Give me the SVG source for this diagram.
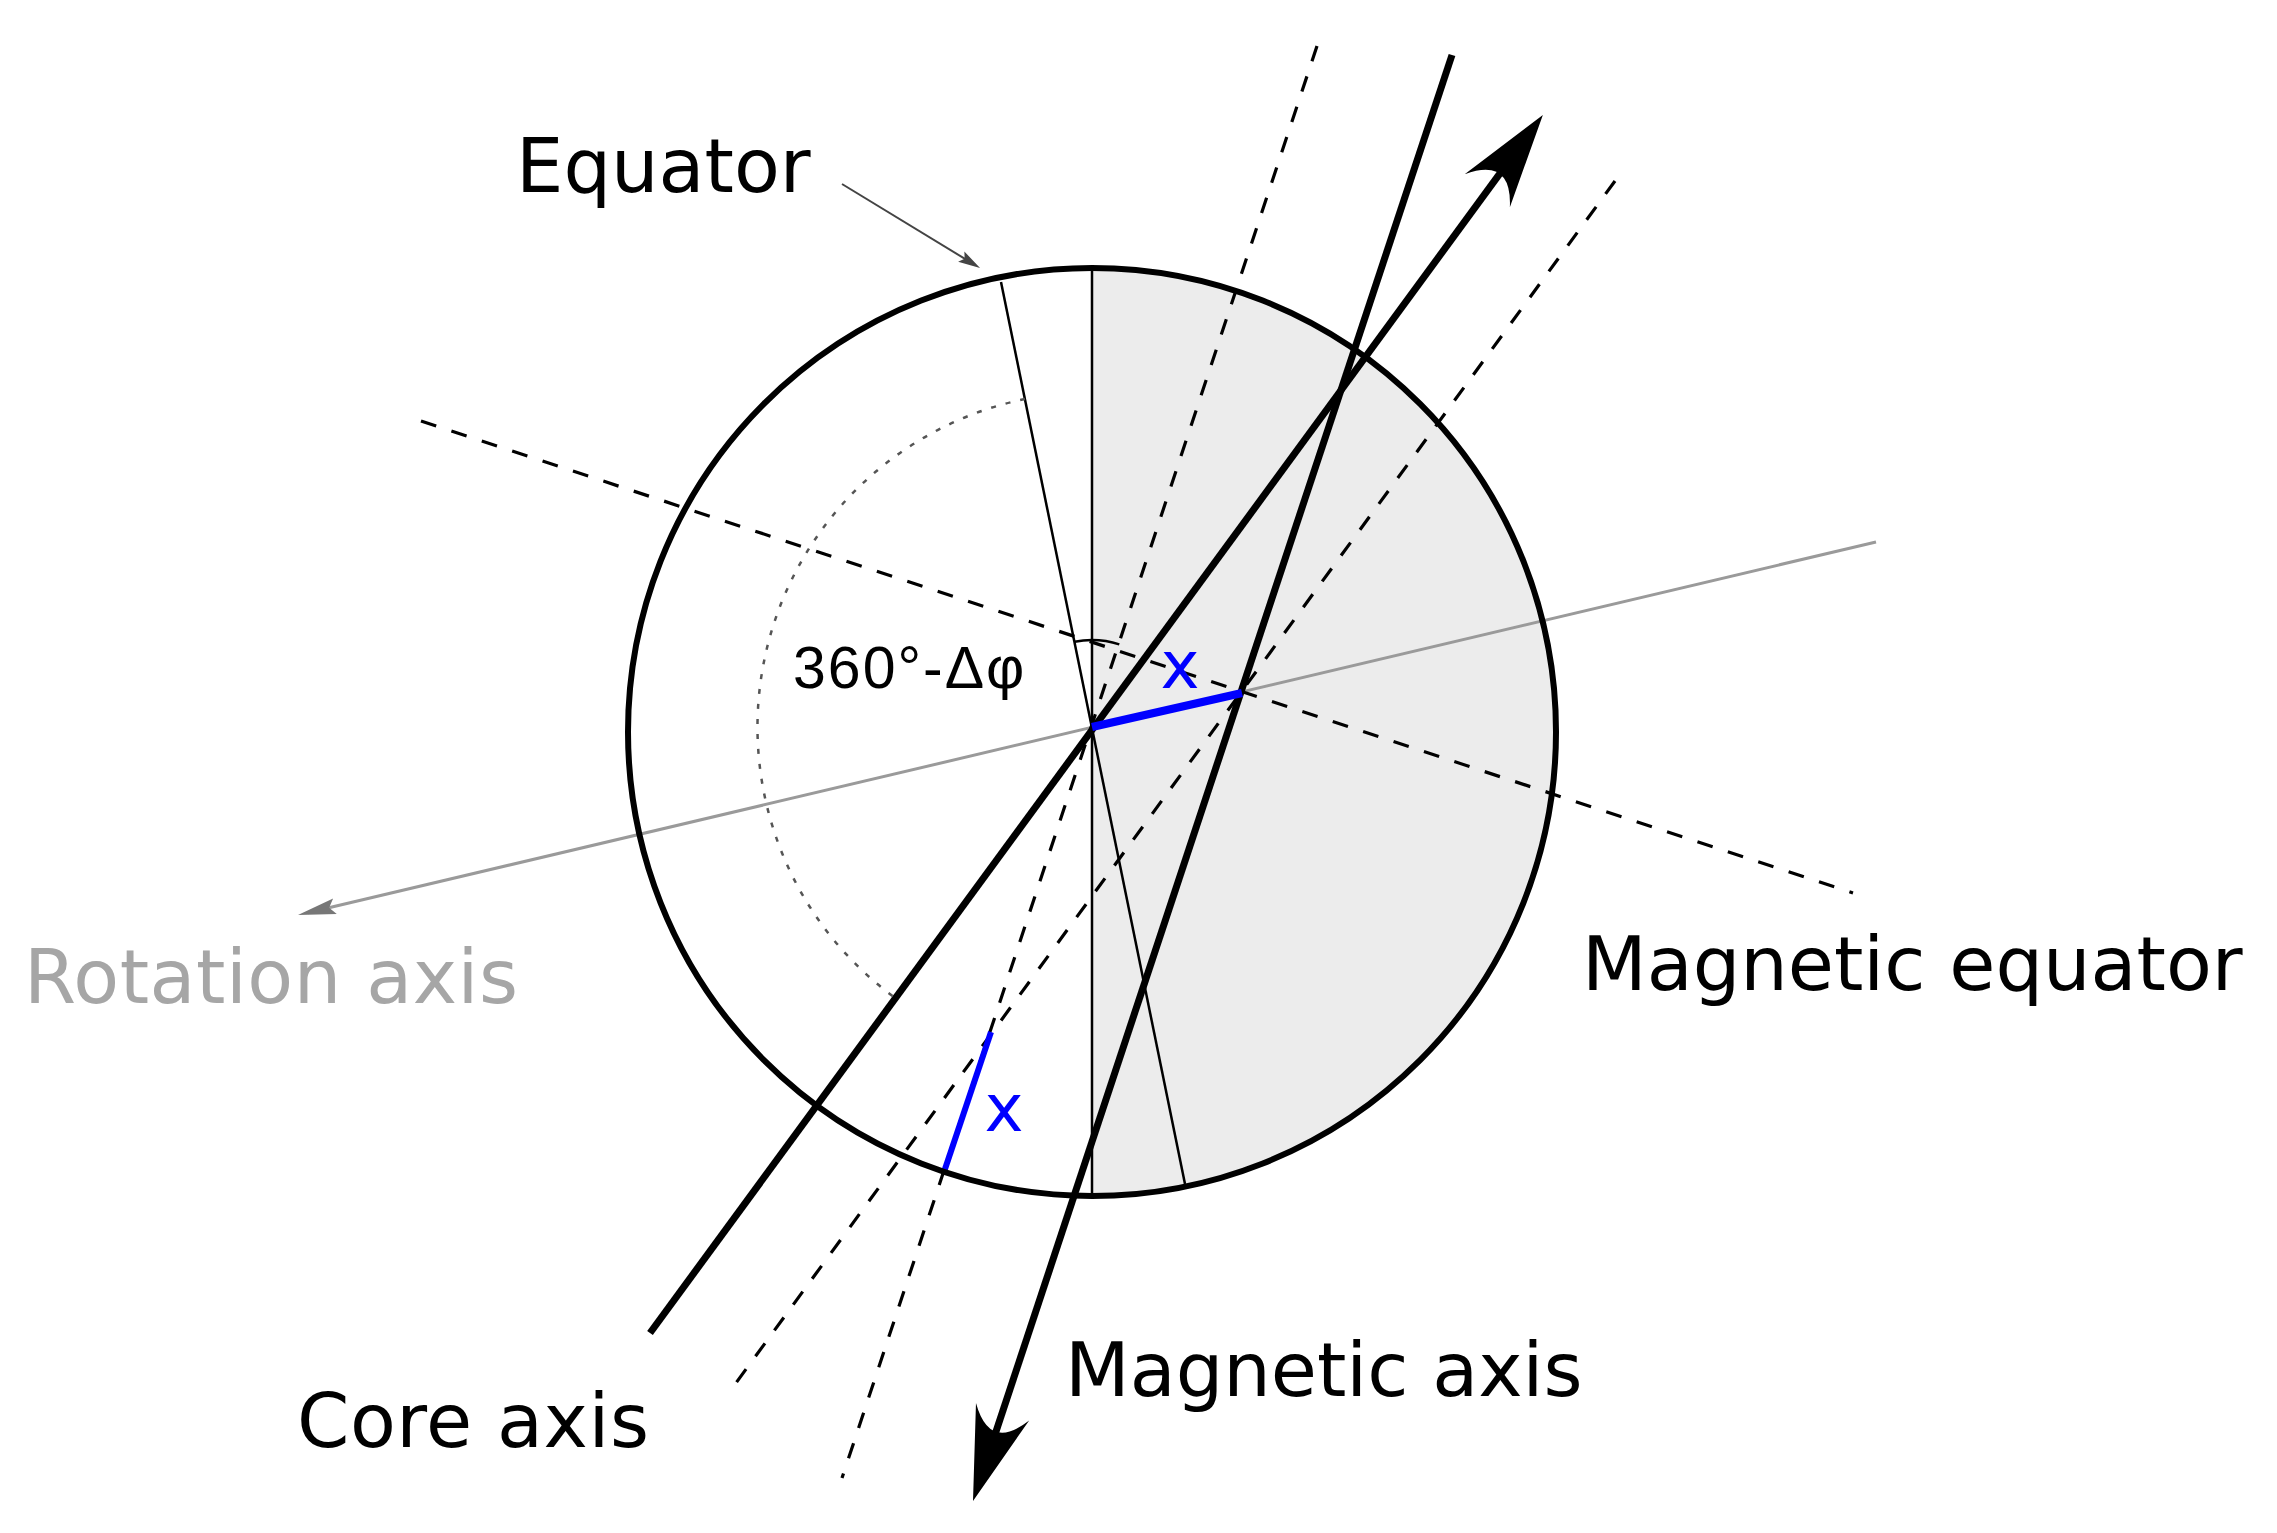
<svg xmlns="http://www.w3.org/2000/svg" width="2277" height="1533" viewBox="0 0 2277 1533">
  <style>
    .lbl { font-family: "DejaVu Sans", "Liberation Sans", sans-serif; font-size: 75px; fill: #000; }
    .gray { fill: #a6a6a6; }
    .blue { font-family: "DejaVu Sans", "Liberation Sans", sans-serif; font-size: 66px; fill: #0000ff; text-anchor: middle; }
    .angle { font-family: "Liberation Sans", "DejaVu Sans", sans-serif; font-size: 59px; fill: #000; letter-spacing: 2px; }
    .thick { stroke: #000; stroke-width: 7; fill: none; }
    .dash { stroke: #000; stroke-width: 3.2; fill: none; stroke-dasharray: 16 16; }
    .thin { stroke: #000; stroke-width: 2.5; fill: none; }
    .bl { stroke: #0000ff; fill: none; }
  </style>
  <defs>
    <marker id="bigArrow" markerUnits="userSpaceOnUse" orient="auto" markerWidth="200" markerHeight="200" refX="0" refY="0" viewBox="-100 -100 200 200" overflow="visible">
      <path d="M62,0 L-32,-28 Q10,0 -32,28 Z" fill="#000"/>
    </marker>
    <marker id="grayArrow" markerUnits="userSpaceOnUse" orient="auto" markerWidth="100" markerHeight="100" refX="0" refY="0" viewBox="-50 -50 100 100" overflow="visible">
      <path d="M10,0 L-28,-8 L-22,0 L-28,8 Z" fill="#777"/>
    </marker>
    <marker id="smallArrow" markerUnits="userSpaceOnUse" orient="auto" markerWidth="60" markerHeight="60" refX="0" refY="0" viewBox="-30 -30 60 60" overflow="visible">
      <path d="M6,0 L-16,-6 L-12,0 L-16,6 Z" fill="#444"/>
    </marker>
  </defs>
  <rect width="2277" height="1533" fill="#fff"/>

  <g id="sphere">
    <path d="M1092,268 A464,464 0 0,1 1092,1196 Z" fill="#ececec"/>
  </g>

  <g id="connectors">
    <!-- rotation axis -->
    <line x1="1876" y1="542" x2="307.7" y2="912.7" stroke="#9a9a9a" stroke-width="3" marker-end="url(#grayArrow)"/>
    <!-- vertical line and equator line -->
    <line x1="1092" y1="268" x2="1092" y2="1196" class="thin" stroke-width="3"/>
    <line x1="1001" y1="282" x2="1185" y2="1184" class="thin"/>
    <!-- dotted angle arc -->
    <path d="M1025,399 A335,335 0 0,0 894,997" fill="none" stroke="#555" stroke-width="2.5" stroke-dasharray="5 10"/>
    <!-- small angle marks -->
    <path d="M1074.6,641.8 A87,87 0 0,1 1092,640" class="thin"/>
    <path d="M1092,640 A87,87 0 0,1 1119.3,644.4" class="thin"/>
    <!-- dashed lines -->
    <line x1="421" y1="421" x2="1853" y2="893" class="dash"/>
    <line x1="1317" y1="46" x2="842" y2="1478" class="dash"/>
    <line x1="1615" y1="181" x2="733" y2="1387" class="dash"/>
    <!-- thick axes -->
    <line x1="650" y1="1333" x2="1506.2" y2="164.9" class="thick" marker-end="url(#bigArrow)"/>
    <line x1="1452" y1="55" x2="992.5" y2="1442.1" class="thick" marker-end="url(#bigArrow)"/>
    <!-- blue distances -->
    <line x1="1092" y1="727" x2="1242" y2="693" class="bl" stroke-width="8"/>
    <line x1="944" y1="1172" x2="991" y2="1032" class="bl" stroke-width="6"/>
    <!-- equator pointer -->
    <line x1="842" y1="184" x2="974.9" y2="264.9" stroke="#444" stroke-width="2" marker-end="url(#smallArrow)"/>
  </g>

  <g id="outline">
    <circle cx="1092" cy="732" r="464" fill="none" stroke="#000" stroke-width="6"/>
  </g>

  <g id="labels">
    <text class="lbl" x="516" y="192">Equator</text>
    <text class="lbl gray" x="24" y="1003" textLength="494">Rotation axis</text>
    <text class="lbl" x="1582" y="990">Magnetic equator</text>
    <text class="lbl" x="1065" y="1396">Magnetic axis</text>
    <text class="lbl" x="297" y="1447" textLength="352">Core axis</text>
    <text class="angle" x="793" y="688">360°-Δφ</text>
    <text class="blue" x="1180" y="688">x</text>
    <text class="blue" x="1004" y="1131">x</text>
  </g>
</svg>
